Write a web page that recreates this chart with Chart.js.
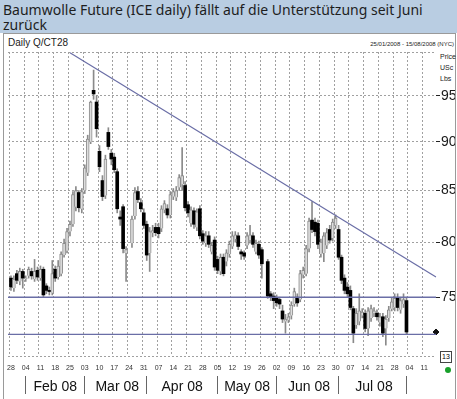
<!DOCTYPE html>
<html>
<head>
<meta charset="utf-8">
<script src="https://cdn.jsdelivr.net/npm/chart.js@4.4.1/dist/chart.umd.min.js"></script>
<style>
body { margin: 0; width: 457px; height: 399px; overflow: hidden; background: #fff; position: relative; font-family: "Liberation Sans Narrow", "Liberation Sans", sans-serif; }
#title { position: absolute; left: 0; top: 0; width: 457px; height: 33px; background: #b9cde2; color: #1e1e1e; font: 14px/15px "Noto Sans", sans-serif; padding: 2px 0 0 3px; box-sizing: border-box; }
#panel { position: absolute; left: 3px; top: 33px; width: 451px; height: 370px; border: 1px solid #9a9a9a; }
.lbl { position: absolute; color: #222; white-space: nowrap; }
#box13 { position: absolute; left: 440px; top: 351px; width: 10px; height: 10px; border: 1px solid #444; font-size: 7px; line-height: 10px; text-align: center; }
#dot { position: absolute; left: 445px; top: 367px; width: 6px; height: 6px; border-radius: 3px; background: #18a02a; }
canvas { position: absolute; left: 0; top: 0; }
</style>
</head>
<body>
<div id="title">Baumwolle Future (ICE daily) fällt auf die Unterstützung seit Juni<br>zurück</div>
<div id="panel"></div>
<div class="lbl" style="left:8px;top:37px;font-size:10px">Daily Q/CT28</div>
<div class="lbl" style="right:3px;top:41px;font-size:6px">25/01/2008 - 15/08/2008 (NYC)</div>
<div class="lbl" style="left:440px;top:53px;font-size:7px">Price</div>
<div class="lbl" style="left:440px;top:64px;font-size:7px">USc</div>
<div class="lbl" style="left:440px;top:75px;font-size:7px">Lbs</div>
<div id="box13">13</div>
<div id="dot"></div>
<canvas id="myChart" width="457" height="399"></canvas>
<script>
// trading days 25 Jan - 15 Aug 2008
const dates = [];
let d = new Date(Date.UTC(2008, 0, 25));
const end = new Date(Date.UTC(2008, 7, 15));
while (d <= end) {
    const dow = d.getUTCDay();
    if (dow !== 0 && dow !== 6) dates.push(d.toISOString().slice(0, 10));
    d.setUTCDate(d.getUTCDate() + 1);
}

const opens = [null,
    76.7,75.8,77.1,76.4,77.3, 76.6,76.9,77.3,76.6,77.4, 76.7,77.5,76.0,75.6,75.4, 77.5,76.8,77.1,78.8,79.2,
    81.0,81.7,83.4,84.8,83.2, 85.0,86.8,90.0,95.6,94.3, 89.0,86.0,84.5,91.0,88.8, 88.4,86.9,82.4,83.4,79.0,
    null,79.9,82.5,84.9,83.8, 82.8,81.7,79.0,80.9,81.4, 81.4,81.3,83.1,83.2,82.6, 84.4,84.3,85.3,85.6,85.5,
    83.6,81.8,83.0,81.4,83.2, 80.8,79.9,80.6,79.1,80.2, 78.4,77.3,78.6,78.2,78.9, 79.6,80.3,80.6,79.1,79.0,
    79.7,80.2,80.6,79.1,79.8, 79.3,null,78.2,75.3,75.1, 74.9,74.8,73.8,72.9,73.0, 73.4,74.4,75.0,74.8,77.0,
    77.1,79.4,82.1,81.9,81.8, 78.9,79.0,79.7,81.2,80.4, 81.6,81.2,78.6,76.7,75.9, 75.6,74.0,72.6,72.9,73.4,
    73.6,72.3,73.2,73.6,73.6, 72.8,73.3,72.3,73.2,74.0, 74.1,74.9,73.9,74.4,74.7];
const highs = [null,
    76.9,76.9,77.4,77.6,77.5, 76.9,77.7,77.6,78.4,77.7, 77.8,77.7,76.2,75.9,78.3, 77.8,78.3,79.1,80.3,81.3,
    82.0,84.9,85.4,85.0,85.2, 87.6,90.7,94.4,97.9,95.0, 89.6,86.5,88.6,91.5,89.2, 88.8,87.2,83.0,83.6,79.6,
    null,82.5,85.3,85.4,84.2, 83.2,82.0,81.4,81.6,81.8, 81.8,83.5,84.0,83.6,84.9, 85.2,85.4,86.6,89.4,85.9,
    83.9,83.4,83.3,83.2,83.5, 81.1,81.0,81.0,80.0,80.5, 78.7,78.9,78.9,79.3,80.1, 81.0,81.0,80.9,79.3,79.2,
    80.9,81.6,80.9,80.2,80.1, 79.5,null,78.4,75.5,75.4, 75.2,75.0,74.3,73.5,73.6, 74.6,75.8,75.3,77.4,77.7,
    79.7,82.3,83.9,82.3,82.1, 80.3,80.9,81.3,81.6,82.2, 82.6,81.6,78.8,77.0,76.3, 76.0,74.2,74.0,75.3,74.0,
    73.9,74.1,74.3,74.1,73.9, 73.6,73.6,73.4,74.2,74.9, 75.3,75.3,75.0,75.3,75.0];
const lows = [null,
    75.6,75.5,76.2,76.1,75.8, 76.4,76.7,76.6,76.4,76.5, 76.5,75.0,75.3,75.2,75.2, 76.4,76.6,76.9,78.6,79.0,
    80.6,81.5,83.0,82.9,82.8, 84.7,86.5,89.8,94.6,90.5, 86.9,84.0,84.2,89.2,87.6, 86.8,82.8,81.6,79.0,76.4,
    null,79.5,82.2,83.8,82.9, 81.3,78.3,77.3,80.5,80.6, 80.4,81.0,82.8,82.3,82.3, 84.1,84.0,85.0,85.0,83.0,
    82.4,81.5,81.3,81.1,80.3, 79.8,79.6,79.5,78.9,77.4, 77.1,77.0,76.9,77.8,78.6, 79.4,80.0,79.3,78.4,78.4,
    79.4,79.9,79.5,78.9,78.5, 76.7,null,74.9,74.7,74.0, 74.2,74.0,72.8,71.9,72.8, 73.1,74.2,74.2,74.6,76.7,
    76.9,79.1,80.9,80.6,79.4, 78.6,78.2,79.4,79.9,80.1, 81.3,78.4,76.2,75.3,75.0, 73.9,71.1,72.3,72.6,73.2,
    72.0,71.7,72.9,73.3,73.0, 72.5,71.6,70.9,72.9,73.8, 73.8,73.8,73.6,74.1,71.8];
const closes = [null,
    75.9,76.6,76.5,77.3,76.7, 76.7,77.5,76.9,77.3,76.8, 77.5,75.2,75.6,75.5,77.1, 76.7,77.8,78.9,79.9,81.0,
    81.7,84.6,85.0,83.3,84.9, 87.3,90.3,94.3,95.2,91.4, 87.4,84.4,88.2,89.5,88.2, 87.1,83.2,82.2,79.4,79.3,
    null,82.2,84.8,84.1,83.2, 81.6,78.8,81.0,81.1,80.9, 80.8,83.2,83.7,82.6,84.6, 84.9,85.0,86.3,86.5,83.3,
    82.8,83.1,81.7,82.9,80.6, 80.1,80.6,79.8,79.7,77.7, 77.4,78.6,77.1,79.0,79.8, 80.6,80.7,79.6,78.9,78.7,
    80.6,80.7,79.8,79.9,78.8, 78.0,null,75.1,75.0,74.7, 74.5,74.4,73.1,73.1,73.3, 74.3,75.5,74.5,77.1,77.4,
    79.4,82.0,81.2,81.0,79.8, 80.0,80.6,80.9,80.2,81.9, 82.3,78.6,76.5,75.6,75.3, 74.1,71.9,73.6,73.8,73.7,
    72.3,73.8,74.0,73.8,73.3, 73.3,71.9,73.1,73.9,74.6, 74.9,74.1,74.7,74.8,72.0];

// trend line and horizontal levels
const trendStart = ['2008-02-25', 99.9];
const trendEnd = ['2008-08-15', 76.8];
const resistance = 75.0;
const support = 71.8;
const lastPrice = 72.0;

const yTicks = [70, 75, 80, 85, 90, 95, 100];
const yLabels = [75, 80, 85, 90, 95];
const dayTicks = ['2008-01-28','2008-02-04','2008-02-11','2008-02-18','2008-02-25','2008-03-03','2008-03-10',
    '2008-03-17','2008-03-24','2008-03-31','2008-04-07','2008-04-14','2008-04-21','2008-04-28','2008-05-05',
    '2008-05-12','2008-05-19','2008-05-26','2008-06-02','2008-06-09','2008-06-16','2008-06-23','2008-06-30',
    '2008-07-07','2008-07-14','2008-07-21','2008-07-28','2008-08-04','2008-08-11'];
const monthSeps = ['2008-02-04','2008-03-03','2008-04-01','2008-05-05','2008-06-02','2008-07-01','2008-08-01'];
const monthMid = ['2008-02-18','2008-03-18','2008-04-17','2008-05-19','2008-06-17','2008-07-17'];
const monthNames = ['Feb 08','Mar 08','Apr 08','May 08','Jun 08','Jul 08'];

const wicks = dates.map((x, i) => highs[i] == null ? null : [lows[i], highs[i]]);
const bodies = dates.map((x, i) => opens[i] == null ? null : [opens[i], closes[i]]);
const first = dates[0], last = dates[dates.length - 1];
const lineColor = '#6a6ea6';
const narrow = "'Liberation Sans Narrow', 'Liberation Sans', sans-serif";
const isUp = i => closes[i] >= opens[i];

new Chart(document.getElementById('myChart'), {
    data: {
        labels: dates,
        datasets: [
            { type: 'line', data: [{x: trendStart[0], y: trendStart[1]}, {x: trendEnd[0], y: trendEnd[1]}],
              borderColor: lineColor, borderWidth: 1.2, pointRadius: 0, order: 0 },
            { type: 'line', data: [{x: first, y: resistance}, {x: last, y: resistance}],
              borderColor: lineColor, borderWidth: 1.5, pointRadius: 0, order: 0 },
            { type: 'line', data: [{x: first, y: support}, {x: last, y: support}],
              borderColor: lineColor, borderWidth: 1.2, pointRadius: 0, order: 0 },
            { type: 'line', data: [{x: last, y: lastPrice}], showLine: false, pointStyle: 'rectRot',
              pointRadius: 3, backgroundColor: '#111', borderColor: '#111', clip: false, order: 0 },
            { type: 'bar', data: bodies, grouped: false, barThickness: 3, minBarLength: 1, order: 1,
              borderWidth: ctx => isUp(ctx.dataIndex) ? 1 : 0,
              borderColor: '#8c8c8c',
              backgroundColor: ctx => isUp(ctx.dataIndex) ? '#dedede' : '#000' },
            { type: 'bar', data: wicks, grouped: false, barThickness: 1, order: 2, backgroundColor: '#8a8a8a' }
        ]
    },
    options: {
        responsive: false,
        animation: false,
        layout: { padding: { left: 5, top: 52, right: 2, bottom: 3 } },
        plugins: { legend: { display: false }, tooltip: { enabled: false } },
        scales: {
            x: {
                type: 'category', offset: false, position: 'bottom',
                afterFit: s => { s.height = 20; },
                grid: { drawTicks: false, color: ctx => dayTicks.includes(dates[ctx.index]) ? '#a0a0a0' : 'rgba(0,0,0,0)' },
                border: { display: false, dash: [2, 2] },
                ticks: { autoSkip: false, maxRotation: 0, padding: 8, color: '#333', font: { family: narrow, size: 7 },
                    callback: (v, i) => dayTicks.includes(dates[i]) ? dates[i].slice(8) : '' }
            },
            x2: {
                type: 'category', labels: dates, offset: false, position: 'bottom',
                afterFit: s => { s.height = 20; },
                grid: { drawOnChartArea: false, drawTicks: true, tickLength: 18, tickWidth: 1,
                    tickColor: ctx => monthSeps.includes(dates[ctx.index]) ? '#666' : 'rgba(0,0,0,0)' },
                border: { display: false },
                ticks: { autoSkip: false, maxRotation: 0, padding: -15, color: '#111', font: { family: narrow, size: 14 },
                    callback: (v, i) => { const k = monthMid.indexOf(dates[i]); return k >= 0 ? monthNames[k] : ''; } }
            },
            y: {
                type: 'logarithmic', position: 'right', min: 70, max: 100,
                afterBuildTicks: s => { s.ticks = yTicks.map(v => ({ value: v })); },
                afterFit: s => { s.width = 19; },
                grid: { color: '#a0a0a0', drawTicks: true, tickLength: 4, tickBorderDash: [],
                    tickColor: ctx => yLabels.includes(ctx.tick.value) ? '#222' : 'rgba(0,0,0,0)' },
                border: { display: false, dash: [2, 2] },
                ticks: { padding: 1, color: '#1a1a1a', font: { family: narrow, size: 14 },
                    callback: v => yLabels.includes(v) ? String(v) : '' }
            }
        }
    }
});
</script>
</body>
</html>
